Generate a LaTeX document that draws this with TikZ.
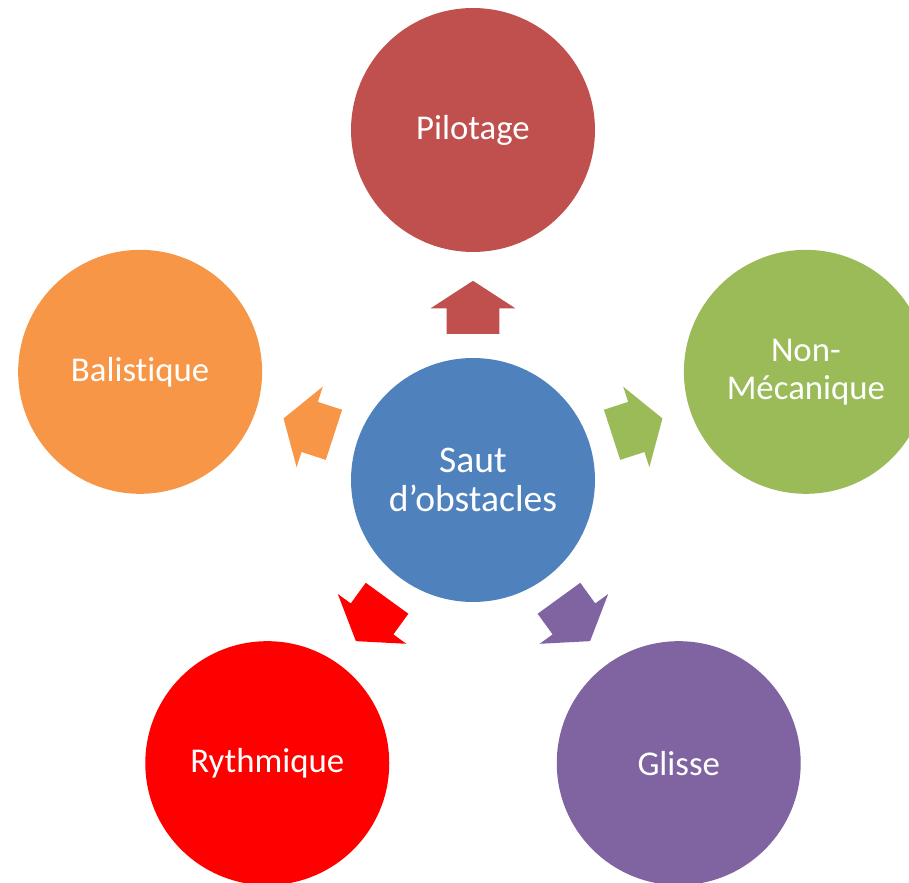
\documentclass[tikz,border=0pt]{standalone}
\usepackage{fontspec}
\setmainfont{Carlito}[RawFeature={-liga;-clig;-dlig;-calt}]
\usetikzlibrary{shapes.arrows, calc, positioning}
\definecolor{sautblue}{HTML}{4F81BD}
\definecolor{pilotred}{HTML}{C0504D}
\definecolor{mecagreen}{HTML}{9BBB59}
\definecolor{glissepurple}{HTML}{8064A2}
\definecolor{rythmred}{HTML}{FF0000}
\definecolor{balisorange}{HTML}{F79646}
\tikzset{
x=0.02cm, y=0.02cm, % one unit is one pixel of the reference
bubble/.style={circle, minimum size=4.88cm, inner sep=0pt, text=white, align=center,
  font=\fontsize{19.8}{21.5}\selectfont}, % the five outer circles
hub/.style={bubble, font=\fontsize{21.4}{22.7}\selectfont}, % the circle in the middle
blockarrow/.style={single arrow, minimum height=1.06cm, text height=0.52cm, text depth=0.52cm,
  text width=0pt, single arrow head extend=0.32cm, single arrow tip angle=114, inner sep=0pt}, % the fat arrows
}
\begin{document}
\begin{tikzpicture}
\useasboundingbox (0,0) rectangle (909,882);
\node[hub, fill=sautblue] (sa) at (473,402) {Saut\\d’obstacles};

\node[bubble, fill=pilotred] (pil) at ([shift={(90:350)}]sa) {Pilotage};
\node[bubble, fill=mecagreen] (nonm) at ([shift={(18:350)}]sa) {Non-\\Mécanique};
\node[bubble, fill=glissepurple] (gli) at ([shift={(-54:350)}]sa) {Glisse};
\node[bubble, fill=rythmred] (ryt) at ([shift={(-126:350)}]sa) {Rythmique};
\node[bubble, fill=balisorange] (bal) at ([shift={(162:350)}]sa) {Balistique};

\node[blockarrow, fill=pilotred, rotate=90] (apil) at ($(sa)!0.469!(pil)$) {};
\node[blockarrow, fill=mecagreen, rotate=18] (anonm) at ($(sa)!0.469!(nonm)$) {};
\node[blockarrow, fill=glissepurple, rotate=-54] (agli) at ($(sa)!0.469!(gli)$) {};
\node[blockarrow, fill=rythmred, rotate=-126] (aryt) at ($(sa)!0.469!(ryt)$) {};
\node[blockarrow, fill=balisorange, rotate=162] (abal) at ($(sa)!0.469!(bal)$) {};
\end{tikzpicture}
\end{document}
